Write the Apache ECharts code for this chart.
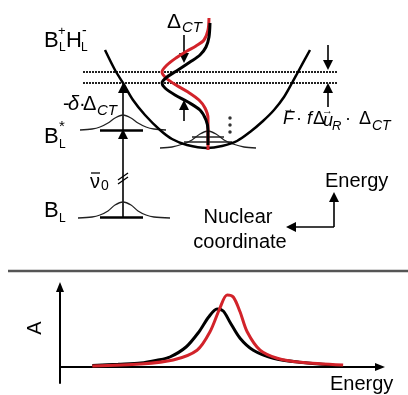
<!DOCTYPE html>
<html><head><meta charset="utf-8">
<script src="https://cdn.jsdelivr.net/npm/echarts@6/dist/echarts.min.js"></script>
<style>html,body{margin:0;padding:0;background:#fff}#c{width:408px;height:395px}</style>
</head><body><div id="c"></div>
<script>
// ===== Upper panel: schematic energy diagram (x = nuclear coordinate, y = energy; arbitrary units) =====
const upperPotential = [[105,220],[115,200],[123,187],[133,170],[145,155],[160,140],[172,131],[187,125],[207,122],[222,124],[237,129],[250,138],[263,149],[274,160],[284,173],[292,187],[298,198],[310,220]];
const excitedGauss = [[80,140],[92,141],[100,143],[108,147],[115,152],[123,155],[131,152],[138,147],[146,143],[154,141],[166,140]];
const groundGauss = [[78,52],[92,53],[100,55],[108,59],[115,65],[123,68],[131,65],[138,59],[146,55],[154,53],[170,52]];
const wellGauss = [[160,122],[172,123],[183,126],[192,130],[200,136],[208,139],[216,136],[224,130],[233,126],[244,123],[256,122]];
const levelMain = [[[100,140],[143,140]], [[100,52.5],[143,52.5]]];
const levelWell = [[[192,133],[224,133]], [[184,128],[232,128]]];
const dottedLevels = [[[83,198],[338,198]], [[83,187],[338,187]]];
const waveRed = [[209,252],[208,240],[204,230],[196,224],[187,219],[176,212],[167,205],[162,198],[166,192],[176,185],[188,178],[199,170],[205,162],[208,152],[208,120]];
const waveBlack = [[210,247],[209,233],[206,223],[200,215],[190,208],[178,200],[167,193],[162,187],[165,182],[175,175],[188,168],[200,160],[206,150],[208,140],[208,125]];
const arrows = [
  [[123,52.5],[123,136]],   // nu0 transition
  [[123,140],[123,182]],    // -delta*Delta_CT
  [[328,225],[328,205]],    // right down
  [[328,163],[328,182]],    // right up
  [[184,235],[184,212]],    // Delta_CT down
  [[184,149],[184,165]],    // Delta_CT up
  [[334,43],[334,73]],      // Energy axis
  [[334,43],[291,43]]       // Nuclear coordinate axis
];
const breakMarks = [[[118,90],[128,97]], [[118,86],[128,93]]];
const vibDots = [[230,152],[230,145],[230,138]];

// ===== Lower panel: absorption spectra (x = energy, y = A; arbitrary units) =====
const spectrumBlack = [[10,0.02],[18,0.035],[25,0.05],[30,0.085],[34,0.125],[39,0.25],[43,0.44],[46,0.625],[48.6,0.725],[50.5,0.70],[52.6,0.56],[55.7,0.36],[59.8,0.21],[66,0.11],[74,0.06],[84.5,0.025]];
const spectrumRed = [[10,0.012],[25,0.037],[35,0.087],[42.4,0.21],[46.4,0.44],[49.5,0.74],[51.7,0.9],[53.6,0.875],[55.7,0.69],[57.9,0.44],[61.9,0.21],[67.2,0.11],[74.3,0.06],[87.6,0.025]];

const RED = '#d2232a';
const FONT = "'Liberation Sans', Arial, sans-serif";
function T(text, x, y, size, o) {
  o = o || {};
  return { type:'text', x:x, y:y, rotation:o.rot||0, z:100,
    style:{ text:text, fill:'#000', font:(o.it?'italic ':'')+size+'px '+FONT, align:o.al||'left', verticalAlign:'middle' } };
}
const top0 = {xAxisIndex:0, yAxisIndex:0};
function lineS(data, color, width, extra) {
  return Object.assign({type:'line', data:data, showSymbol:false, smooth:0.3, silent:true,
    lineStyle:{color:color, width:width}}, top0, extra||{});
}
function segS(segs, style, extra) {
  return Object.assign({type:'lines', coordinateSystem:'cartesian2d', silent:true,
    data:segs.map(s=>({coords:s})), lineStyle:Object.assign({opacity:1, curveness:0}, style)}, top0, extra||{});
}

const chart = echarts.init(document.getElementById('c'));
chart.setOption({
  animation:false,
  backgroundColor:'#fff',
  grid:[{left:0, top:0, width:408, height:270}, {left:60, top:287, width:320, height:96}],
  xAxis:[
    {type:'value', gridIndex:0, min:0, max:408, show:false},
    {type:'value', gridIndex:1, min:0, max:99,
      axisLine:{show:true, onZero:true, symbol:['none','triangle'], symbolSize:[8,10], lineStyle:{color:'#000', width:2}},
      axisTick:{show:false}, axisLabel:{show:false}, splitLine:{show:false}}
  ],
  yAxis:[
    {type:'value', gridIndex:0, min:0, max:270, show:false},
    {type:'value', gridIndex:1, min:-0.2, max:1.0,
      axisLine:{show:true, onZero:false, symbol:['none','triangle'], symbolSize:[8,10], lineStyle:{color:'#000', width:2}},
      axisTick:{show:false}, axisLabel:{show:false}, splitLine:{show:false}}
  ],
  series:[
    segS(dottedLevels, {color:'#222', width:2, type:[2,1]}),
    lineS(excitedGauss, '#222', 1.3),
    lineS(groundGauss, '#222', 1.3),
    lineS(wellGauss, '#222', 1.3),
    segS(levelMain, {color:'#000', width:2.5}),
    segS(levelWell, {color:'#222', width:1.5}),
    lineS(upperPotential, '#000', 2.5),
    lineS(waveRed, RED, 3),
    lineS(waveBlack, '#000', 3),
    segS(arrows, {color:'#000', width:1.6}, {symbol:['none','triangle'], symbolSize:[8,10]}),
    segS(breakMarks, {color:'#000', width:1.3}),
    Object.assign({type:'scatter', data:vibDots, symbolSize:3.5, itemStyle:{color:'#000'}, silent:true}, top0),
    {type:'line', xAxisIndex:1, yAxisIndex:1, data:spectrumBlack, showSymbol:false, smooth:0.3, silent:true, lineStyle:{color:'#000', width:3}},
    {type:'line', xAxisIndex:1, yAxisIndex:1, data:spectrumRed, showSymbol:false, smooth:0.3, silent:true, lineStyle:{color:RED, width:3}}
  ],
  graphic:[
    {type:'line', shape:{x1:8, y1:271, x2:408, y2:271}, style:{stroke:'#555', lineWidth:2.5}, z:100},
    T('B', 44, 41, 22), T('L', 59, 48, 12), T('+', 58, 31, 13), T('H', 66, 41, 22), T('L', 81, 48, 12), T('-', 82, 31, 14),
    T('B', 44, 137, 22), T('*', 59, 127, 15), T('L', 59, 145, 12),
    T('B', 44, 211, 22), T('L', 59, 219, 12),
    T('-', 63, 104, 20), T('δ', 68, 104, 20, {it:1}), T('·', 79, 104, 20), T('Δ', 83, 104, 20), T('CT', 97, 111, 15, {it:1}),
    T('Δ', 167, 22, 21), T('CT', 182, 28, 15, {it:1}),
    T('ν', 90, 182, 20), {type:'line', shape:{x1:91, y1:173, x2:100, y2:173}, style:{stroke:'#000', lineWidth:1.3}, z:100}, T('0', 101, 186, 14),
    T('F', 283, 119, 18, {it:1}), T('→', 283, 109, 11), T('·', 296, 119, 18), T('f', 307, 119, 18, {it:1}), T('Δ', 313, 119, 18),
    T('u', 323, 121, 18, {it:1}), T('→', 322, 111, 11), T('R', 332, 126, 13, {it:1}), T('·', 345, 119, 18), T('Δ', 359, 119, 18), T('CT', 372, 126, 14, {it:1}),
    T('Energy', 325, 181, 20),
    T('Nuclear', 238, 217, 20, {al:'center'}), T('coordinate', 240, 242, 20, {al:'center'}),
    T('Energy', 330, 384, 20),
    T('A', 35, 328, 20, {al:'center', rot:Math.PI/2})
  ]
});
</script></body></html>
